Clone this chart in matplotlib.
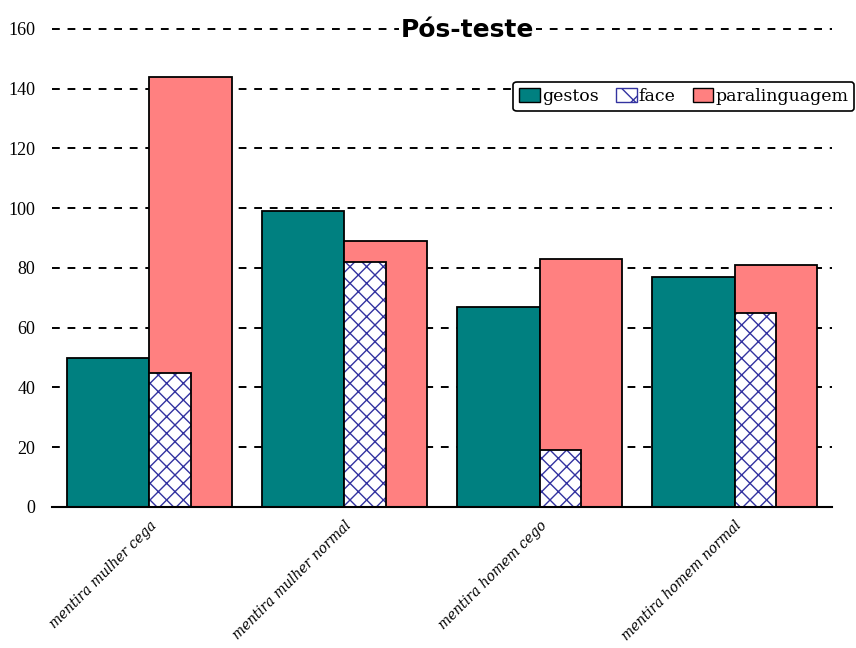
import numpy as np
import matplotlib.pyplot as plt
from matplotlib.patches import Patch

# categorias
categorias = ['mentira mulher cega', 'mentira mulher normal',
              'mentira homem cego', 'mentira homem normal']
gestos = [50, 99, 67, 77]
face = [45, 82, 19, 65]
paralinguagem = [144, 89, 83, 81]

plt.rcParams['hatch.linewidth'] = 1.0

fig = plt.figure(figsize=(8.56, 6.48), dpi=100)
ax = fig.add_axes([0.0607, 0.2176, 0.9113, 0.7377])

x = np.arange(len(categorias))
w = 0.425

ax.bar(x - w / 2, gestos, w, color='#008080', edgecolor='black', linewidth=1.3, zorder=2)
ax.bar(x + w / 2, paralinguagem, w, color='#ff8080', edgecolor='black', linewidth=1.3, zorder=2)
# face: hachura azul, contorno preto
ax.bar(x + w / 4, face, w / 2, color='white', edgecolor='#3333a0', linewidth=0,
       hatch='xx', zorder=3)
ax.bar(x + w / 4, face, w / 2, fill=False, edgecolor='black', linewidth=1.3, zorder=4)

ax.set_xlim(-0.5, len(categorias) - 0.5)
ax.set_ylim(0, 160)
ax.set_yticks(np.arange(0, 161, 20))
ax.yaxis.grid(True, color='black', linestyle=(0, (4, 4)), linewidth=1.4, zorder=0)
for gl in ax.get_ygridlines():
    gl.set_clip_on(False)
ax.set_axisbelow(True)

for s in ['left', 'right', 'top']:
    ax.spines[s].set_visible(False)
ax.spines['bottom'].set_linewidth(1.5)
ax.spines['bottom'].set_zorder(5)
ax.tick_params(axis='y', length=0, pad=12, labelsize=13)
ax.tick_params(axis='x', length=0, pad=8)
for lab in ax.get_yticklabels():
    lab.set_fontfamily('Liberation Serif')

ax.set_xticks(x)
ax.set_xticklabels(categorias, rotation=45, ha='right', rotation_mode='anchor',
                   fontfamily='DejaVu Serif', fontstyle='italic', fontsize=9.8)

fig.text(0.546, 0.953, 'Pós-teste', ha='center', va='center', fontsize=18,
         fontweight='bold', fontfamily='DejaVu Sans',
         bbox=dict(facecolor='white', edgecolor='none', pad=1))

handles = [Patch(facecolor='#008080', edgecolor='black'),
           Patch(facecolor='white', edgecolor='#3333a0', hatch='x'),
           Patch(facecolor='#ff8080', edgecolor='black')]
leg = fig.legend(handles, ['gestos', 'face', 'paralinguagem'], ncol=3,
                 loc='center right', bbox_to_anchor=(0.998, 0.851),
                 borderaxespad=0,
                 prop={'family': 'DejaVu Serif', 'size': 12.5},
                 handlelength=1.2, handleheight=0.9, handletextpad=0.1,
                 columnspacing=1.0, borderpad=0.35, fancybox=True,
                 edgecolor='black', framealpha=1)
leg.get_frame().set_linewidth(1.2)

fig.savefig('out.png', dpi=100)
